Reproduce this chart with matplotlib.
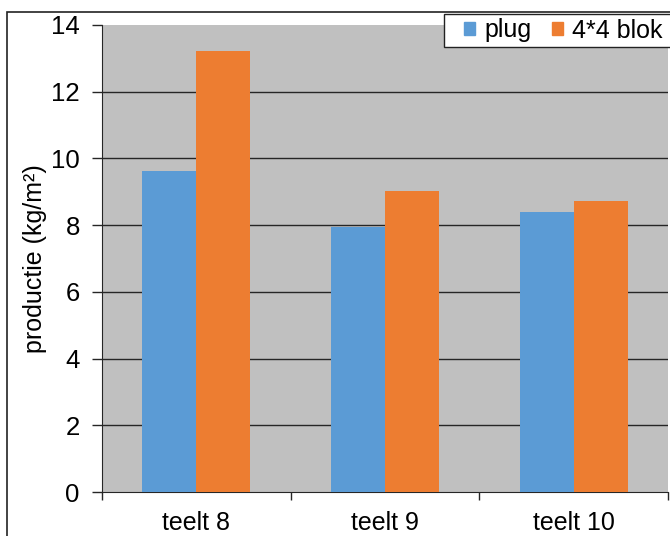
import matplotlib
matplotlib.use("Agg")
import matplotlib.pyplot as plt
from matplotlib.patches import Rectangle, Patch
import numpy as np

plt.rcParams['font.family'] = ['Liberation Sans', 'DejaVu Sans']

categories = ["teelt 8", "teelt 9", "teelt 10"]
plug = [9.63, 7.95, 8.38]
blok = [13.22, 9.02, 8.73]
series_names = ["plug", "4*4 blok"]
yticks = [0, 2, 4, 6, 8, 10, 12, 14]

blue = "#5B9BD5"
orange = "#ED7D31"
W, H = 670, 536
fig = plt.figure(figsize=(W / 100, H / 100), dpi=100)
fig.patch.set_facecolor("white")

ax = fig.add_axes([102 / W, (H - 492) / H, (668 - 102) / W, (492 - 25) / H])
ax.set_facecolor("#C0C0C0")

x = np.arange(len(categories))
bw = 0.286
ax.bar(x - bw / 2, plug, width=bw, color=blue, zorder=3)
ax.bar(x + bw / 2, blok, width=bw, color=orange, zorder=3)

for v in yticks[1:-1]:
    ax.axhline(v, color="#262626", lw=1.0, zorder=1)

ax.set_xlim(-0.5, len(categories) - 0.5)
ax.set_ylim(0, 14)
ax.set_yticks(yticks)
ax.set_yticklabels([str(t) for t in yticks], fontsize=18.5)
ax.tick_params(axis="y", length=7, width=1, pad=9, color="#262626")

ax.set_xticks(x)
ax.set_xticklabels(categories, fontsize=18)
ax.tick_params(axis="x", which="major", length=0, pad=14)
ax.set_xticks(np.arange(-0.5, len(categories)), minor=True)
ax.tick_params(axis="x", which="minor", length=6, width=1, color="#262626")

for s in ["top", "right"]:
    ax.spines[s].set_visible(False)
ax.spines["left"].set_color("#262626")
ax.spines["bottom"].set_color("#262626")

ax.set_ylabel("productie (kg/m²)", fontsize=18)
ax.yaxis.set_label_coords((47 - 102) / (668 - 102), 0.5)

# outer chart frame
fig.patches.append(Rectangle((7 / W, -0.1), 1.2, 1.1 - 12 / H, transform=fig.transFigure,
                             fill=False, edgecolor="#222222", lw=1.2))

# legend box, running off the right edge
fig.patches.append(Rectangle((444 / W, 1 - 47 / H), 0.5, 33 / H, transform=fig.transFigure,
                             facecolor="white", edgecolor="#222222", lw=1.0, zorder=5))

handles = [Patch(color=blue), Patch(color=orange)]
leg = fig.legend(handles, series_names, loc="center right", ncol=2,
                 bbox_to_anchor=(663 / W, 1 - 30.5 / H), fontsize=18,
                 handlelength=0.42, handleheight=0.42, handletextpad=0.4,
                 columnspacing=0.8, borderpad=0, borderaxespad=0,
                 frameon=False)
leg.set_zorder(6)

fig.savefig("out.png", dpi=100)
